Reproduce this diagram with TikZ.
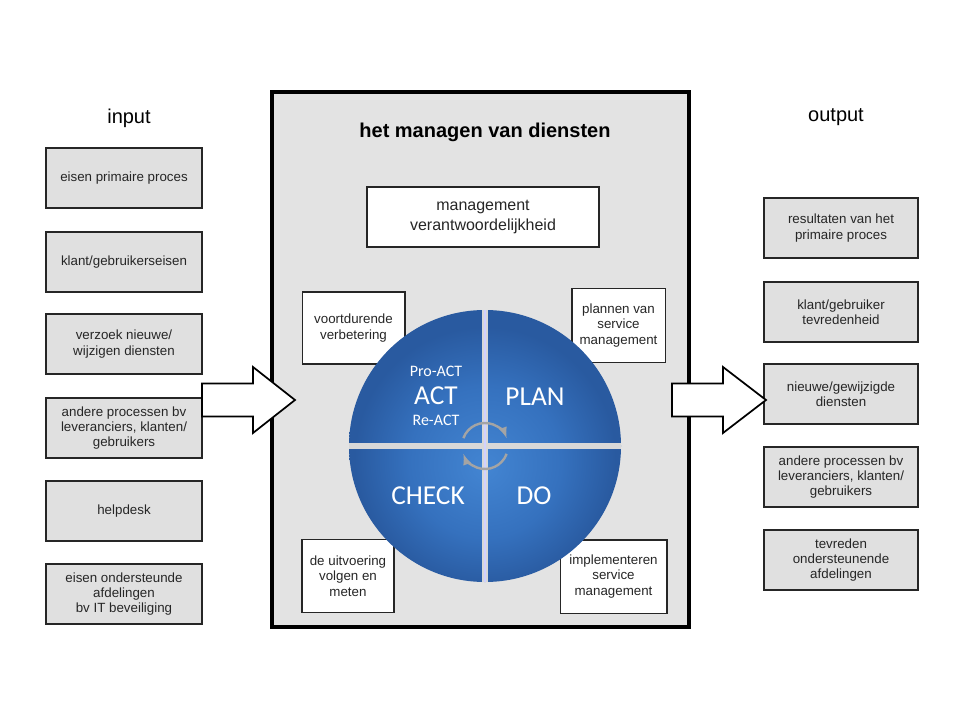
\documentclass[tikz,border=0pt]{standalone}
\usepackage{fontspec}
\setmainfont{Liberation Sans}
\newfontfamily\pdcafont{Carlito}
\definecolor{boxgray}{HTML}{E0E0E0}
\definecolor{panelgray}{HTML}{E3E3E3}
\definecolor{pdcalight}{HTML}{4385D2}
\definecolor{pdcamid}{HTML}{3571BE}
\definecolor{pdcadark}{HTML}{295AA0}
\definecolor{cyclegray}{HTML}{A4A4A4}
\pgfdeclareradialshading{pdcaball}{\pgfpoint{0bp}{-4bp}}{color(0bp)=(pdcalight); color(14bp)=(pdcamid); color(24bp)=(pdcadark); color(50bp)=(pdcadark)}
\begin{document}
\begin{tikzpicture}[x=0.75pt,y=-0.75pt,
        iobox/.style={draw=black!85,line width=1.3pt,fill=boxgray,align=center,text=black!85,
            minimum width=117pt,minimum height=44.5pt,inner sep=2pt,font=\fontsize{10}{11.5}\selectfont},
        notebox/.style={draw=black!85,line width=1pt,fill=white,align=center,text=black!85,
            minimum height=55pt,inner sep=2pt,font=\fontsize{10}{11.8}\selectfont},
        quadlabel/.style={text=white,font=\pdcafont\fontsize{20.5}{20}\selectfont},
        sublabel/.style={text=white,font=\pdcafont\fontsize{12}{12}\selectfont},
        blockarrow/.style={draw=black,line width=1.3pt,fill=white,line join=miter}]
        \useasboundingbox (0,0) rectangle (960,720);
        %% Panel
        \node[draw,line width=2.3pt,fill=panelgray,inner sep=0pt,outer sep=0pt,
            minimum width=312.75pt,minimum height=401.25pt] (panel) at (480.5,359.5) {};
        \node[font=\bfseries\fontsize{15}{18}\selectfont] (title) at (485,132) {het managen van diensten};
        \node[notebox,line width=1.2pt,minimum width=174pt,minimum height=45pt,
            font=\fontsize{12}{14.5}\selectfont] (mgmt) at (483,217) {management\\verantwoordelijkheid};
        %% Notes round the cycle
        \node[notebox,minimum width=77pt,minimum height=54pt] (improve) at (353.5,328) {voortdurende\\verbetering};
        \node[notebox,minimum width=70pt] (plannote) at (618.5,325.5) {plannen van\\service\\management};
        \node[notebox,minimum width=69pt] (checknote) at (348,576) {de uitvoering\\volgen en\\meten};
        \node[notebox,minimum width=80pt] (donote) at (613.5,576.5) {implementeren\\service\\management};
        %% Cycle
        \coordinate (pdca) at (485,446);
        \begin{scope}
            \clip (pdca) circle[radius=136];
            \shade[shading=pdcaball] (pdca) circle[radius=136];
            \draw[line width=4.5pt,panelgray!95!black] (pdca) ++(-140,0) -- ++(280,0);
            \draw[line width=4.5pt,panelgray!95!black] (pdca) ++(0,-140) -- ++(0,280);
            \draw[line width=1.4pt,white!82!blue] (pdca) ++(0,-140) -- ++(0,280);
        \end{scope}
        \draw[line width=1.8pt,cyclegray,-latex] (pdca) ++(-160:23) arc[start angle=-160,end angle=-20,radius=23];
        \draw[line width=1.8pt,cyclegray,-latex] (pdca) ++(20:23) arc[start angle=20,end angle=160,radius=23];
        \node[sublabel] (proact) at (436,371) {Pro-ACT};
        \node[quadlabel] (act) at (436,396) {ACT};
        \node[sublabel] (react) at (436,420) {Re-ACT};
        \node[quadlabel] (plan) at (535,397) {PLAN};
        \node[quadlabel] (check) at (428,496) {CHECK};
        \node[quadlabel] (do) at (534,496) {DO};
        %% Input
        \node[font=\fontsize{15}{18}\selectfont] (input) at (129,118) {input};
        \node[iobox] (in1) at (124,178) {eisen primaire proces};
        \node[iobox] (in2) at (124,262) {klant/gebruikerseisen};
        \node[iobox] (in3) at (124,344) {verzoek nieuwe/\\wijzigen diensten};
        \node[iobox] (in4) at (124,428) {andere processen bv\\leveranciers, klanten/\\gebruikers};
        \node[iobox] (in5) at (124,511) {helpdesk};
        \node[iobox] (in6) at (124,594) {eisen ondersteunde\\afdelingen\\bv IT beveiliging};
        %% Output
        \node[font=\fontsize{15}{18}\selectfont] (output) at (836,117) {output};
        \node[iobox,minimum width=115.5pt,minimum height=45pt] (out1) at (841,228) {resultaten van het\\primaire proces};
        \node[iobox,minimum width=115.5pt,minimum height=45pt] (out2) at (841,312) {klant/gebruiker\\tevredenheid};
        \node[iobox,minimum width=115.5pt,minimum height=45pt] (out3) at (841,394) {nieuwe/gewijzigde\\diensten};
        \node[iobox,minimum width=115.5pt,minimum height=45pt] (out4) at (841,477) {andere processen bv\\leveranciers, klanten/\\gebruikers};
        \node[iobox,minimum width=115.5pt,minimum height=45pt] (out5) at (841,560) {tevreden\\ondersteunende\\afdelingen};
        %% Arrows
        \coordinate (inarrow) at (202,400);
        \coordinate (outarrow) at (672,400);
        \draw[blockarrow] (inarrow) ++(0,-16.5) -- ++(51,0) -- ++(0,-16.5) -- ++(42,33) -- ++(-42,33)
            -- ++(0,-16.5) -- ++(-51,0) -- cycle;
        \draw[blockarrow] (outarrow) ++(0,-16.5) -- ++(51,0) -- ++(0,-16.5) -- ++(43,33) -- ++(-43,33)
            -- ++(0,-16.5) -- ++(-51,0) -- cycle;
    \end{tikzpicture}
\end{document}
